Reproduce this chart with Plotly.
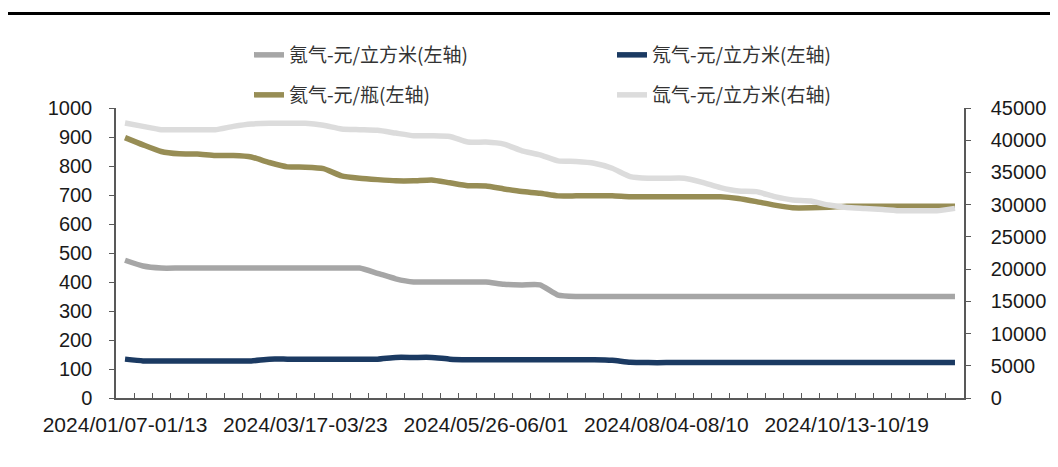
import plotly.graph_objects as go

weeks = [
    "2024/01/07-01/13", "2024/01/14-01/20", "2024/01/21-01/27", "2024/01/28-02/03",
    "2024/02/04-02/10", "2024/02/11-02/17", "2024/02/18-02/24", "2024/02/25-03/02",
    "2024/03/03-03/09", "2024/03/10-03/16", "2024/03/17-03/23", "2024/03/24-03/30",
    "2024/03/31-04/06", "2024/04/07-04/13", "2024/04/14-04/20", "2024/04/21-04/27",
    "2024/04/28-05/04", "2024/05/05-05/11", "2024/05/12-05/18", "2024/05/19-05/25",
    "2024/05/26-06/01", "2024/06/02-06/08", "2024/06/09-06/15", "2024/06/16-06/22",
    "2024/06/23-06/29", "2024/06/30-07/06", "2024/07/07-07/13", "2024/07/14-07/20",
    "2024/07/21-07/27", "2024/07/28-08/03", "2024/08/04-08/10", "2024/08/11-08/17",
    "2024/08/18-08/24", "2024/08/25-08/31", "2024/09/01-09/07", "2024/09/08-09/14",
    "2024/09/15-09/21", "2024/09/22-09/28", "2024/09/29-10/05", "2024/10/06-10/12",
    "2024/10/13-10/19", "2024/10/20-10/26", "2024/10/27-11/02", "2024/11/03-11/09",
    "2024/11/10-11/16", "2024/11/17-11/23", "2024/11/24-11/30",
]

krypton = [475, 455, 448, 448, 448, 448, 448, 448, 448, 448, 448, 448, 448, 448,
           430, 411, 400, 400, 400, 400, 400, 392, 390, 390, 355, 350, 350, 350,
           350, 350, 350, 350, 350, 350, 350, 350, 350, 350, 350, 350, 350, 350,
           350, 350, 350, 350, 350]

neon = [134, 128, 128, 128, 128, 128, 128, 128, 134, 134, 134, 134, 134, 134,
        134, 140, 140, 140, 134, 132, 132, 132, 132, 132, 132, 132, 132, 130,
        123, 122, 122, 122, 122, 122, 122, 122, 122, 122, 122, 122, 122, 122,
        122, 122, 122, 122, 122]

helium = [898, 873, 850, 842, 841, 836, 836, 831, 812, 797, 796, 791, 766, 758,
          753, 749, 749, 752, 742, 732, 731, 721, 712, 706, 697, 697, 697, 697,
          694, 694, 694, 694, 694, 694, 688, 677, 665, 656, 656, 658, 661, 661,
          661, 661, 661, 661, 661]

xenon = [42670, 42150, 41630, 41630, 41630, 41630, 42150, 42520, 42620, 42620,
         42620, 42310, 41740, 41630, 41530, 41110, 40700, 40700, 40590, 39710,
         39710, 39400, 38360, 37730, 36800, 36700, 36430, 35650, 34360, 34100,
         34100, 34100, 33470, 32640, 32120, 32020, 31240, 30720, 30560, 29940,
         29570, 29420, 29260, 29050, 29050, 29050, 29420]

names = ["氪气-元/立方米(左轴)", "氖气-元/立方米(左轴)", "氦气-元/瓶(左轴)", "氙气-元/立方米(右轴)"]
colors = ["#a6a6a6", "#1b3a62", "#978d55", "#dcdcdc"]

label_every = 10
tick_text = [w if i % label_every == 0 else "" for i, w in enumerate(weeks)]

# page body has an 8px margin; figure sized to fit the 1058x467 window
W, H = 1050, 459
L, R, T, B = 108, 94, 100, 69
PW, PH = W - L - R, H - T - B

fig = go.Figure()
series = [(krypton, "y", "legend"), (neon, "y", "legend"), (helium, "y", "legend2"), (xenon, "y2", "legend2")]
for (vals, yax, leg), name, col in zip(series, names, colors):
    fig.add_trace(go.Scatter(
        x=weeks, y=vals, name=name, mode="lines", yaxis=yax, legend=leg,
        line=dict(color=col, width=5.5, shape="spline", smoothing=0.5),
    ))

axis_col = "#595959"
tick_font = dict(family="Liberation Sans, Arial, sans-serif", size=20, color="#1a1a1a")
xtick_font = dict(family="Liberation Sans, Arial, sans-serif", size=21, color="#1a1a1a")
legend_font = dict(family="Noto Sans CJK SC", size=19, color="#333333")

legend_common = dict(
    orientation="h", xref="container", yref="container",
    x=241 / W, xanchor="left", yanchor="middle",
    entrywidth=318, entrywidthmode="pixels",
    font=legend_font, bgcolor="rgba(0,0,0,0)", traceorder="normal",
)

fig.update_layout(
    width=W, height=H,
    margin=dict(l=L, r=R, t=T, b=B, autoexpand=False),
    paper_bgcolor="white", plot_bgcolor="white",
    showlegend=True,
    xaxis=dict(
        type="category", tickmode="array", tickvals=weeks, ticktext=tick_text,
        tickson="boundaries", ticks="inside", ticklen=5, tickcolor=axis_col,
        showline=True, linecolor=axis_col, linewidth=1.5, showgrid=False,
        tickfont=xtick_font, tickangle=0, range=[-0.5, len(weeks) - 0.5],
        ticklabelstandoff=7,
    ),
    yaxis=dict(
        range=[0, 1000], dtick=100, ticks="outside", ticklen=5, tickcolor=axis_col,
        showline=True, linecolor=axis_col, linewidth=1.5, showgrid=False,
        zeroline=False, tickfont=tick_font, ticklabelstandoff=13,
    ),
    yaxis2=dict(
        range=[0, 45000], dtick=5000, overlaying="y", side="right",
        ticks="outside", ticklen=5, tickcolor=axis_col, tickformat="d",
        showline=True, linecolor=axis_col, linewidth=1.5, showgrid=False,
        zeroline=False, tickfont=tick_font, ticklabelstandoff=16,
    ),
    legend=dict(legend_common, y=1 - 47 / H),
    legend2=dict(legend_common, y=1 - 87 / H),
    shapes=[dict(
        type="line", xref="paper", yref="paper",
        x0=(0 - L) / PW, x1=(W - L) / PW,
        y0=(T + PH - 5.5) / PH, y1=(T + PH - 5.5) / PH,
        line=dict(color="black", width=3),
    )],
)

fig.write_html("out.html")
